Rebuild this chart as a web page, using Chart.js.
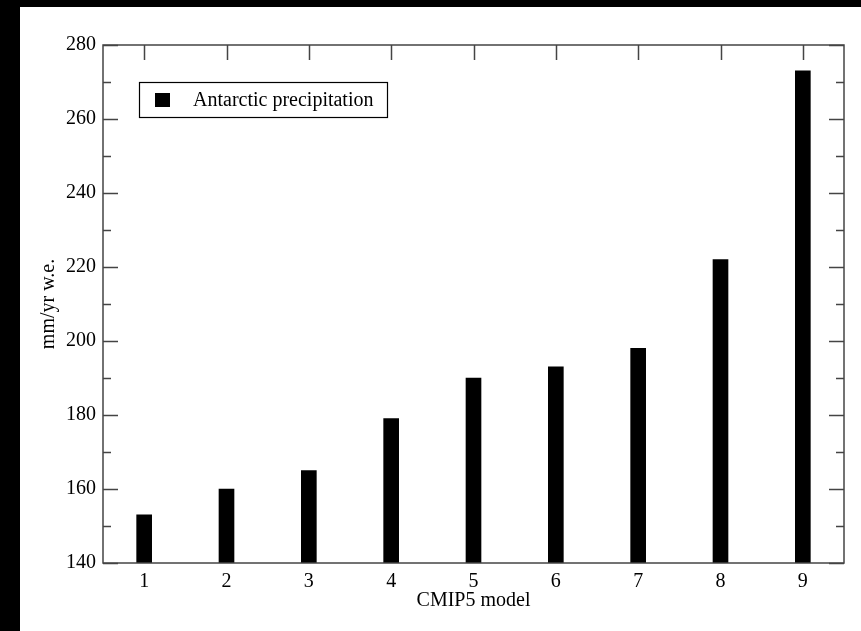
<!DOCTYPE html>
<html>
<head>
<meta charset="utf-8">
<script src="https://cdn.jsdelivr.net/npm/chart.js@4.4.0/dist/chart.umd.min.js"></script>
<style>
  html, body { margin: 0; padding: 0; background: #000; overflow: hidden; }
  #wrap { position: absolute; left: 20px; top: 7px; width: 841px; height: 624px; background: #fff; }
</style>
</head>
<body>
<div id="wrap"><canvas id="chart" width="841" height="624"></canvas></div>
<script>
const models = ['1', '2', '3', '4', '5', '6', '7', '8', '9'];
const precipitation = [153, 160, 165, 179, 190, 193, 198, 222, 273];
const yMin = 140, yMax = 280, yStep = 20, yMinorStep = 10;

const axisColor = '#444';

// frame, inward ticks and the boxed legend, like the original xmgrace plot
const framePlugin = {
    id: 'frame',
    beforeDatasetsDraw(chart) {
        const ctx = chart.ctx;
        const a = chart.chartArea;
        const x = chart.scales.x, y = chart.scales.y;
        ctx.save();
        ctx.strokeStyle = axisColor;
        ctx.lineWidth = 1.5;
        ctx.beginPath();
        for (let v = yMin; v <= yMax; v += yMinorStep) {
            const py = Math.round(y.getPixelForValue(v)) + 0.5;
            const len = (v - yMin) % yStep === 0 ? 15 : 8;
            ctx.moveTo(a.left, py); ctx.lineTo(a.left + len, py);
            ctx.moveTo(a.right, py); ctx.lineTo(a.right - len, py);
        }
        models.forEach((m, i) => {
            const px = Math.round(x.getPixelForValue(i)) + 0.5;
            ctx.moveTo(px, a.top); ctx.lineTo(px, a.top + 15);
            ctx.moveTo(px, a.bottom); ctx.lineTo(px, a.bottom - 15);
        });
        ctx.stroke();
        ctx.restore();
    },
    afterDatasetsDraw(chart) {
        const ctx = chart.ctx;
        const a = chart.chartArea;
        ctx.save();
        ctx.strokeStyle = axisColor;
        ctx.lineWidth = 1.5;
        ctx.strokeRect(a.left, a.top, a.right - a.left, a.bottom - a.top);

        // legend
        const ds = chart.data.datasets[0];
        const lx = a.left + 36, ly = a.top + 37, lw = 248, lh = 35;
        ctx.strokeStyle = '#000';
        ctx.lineWidth = 1.2;
        ctx.strokeRect(lx + 0.5, ly + 0.5, lw, lh);
        ctx.fillStyle = ds.backgroundColor;
        ctx.fillRect(lx + 16, ly + 11, 15, 14);
        ctx.fillStyle = '#000';
        ctx.font = "20px 'Liberation Serif', 'DejaVu Serif', serif";
        ctx.textBaseline = 'middle';
        ctx.fillText(ds.label, lx + 54, ly + lh / 2 + 1);
        ctx.restore();
    }
};

Chart.defaults.font.family = "'Liberation Serif', 'DejaVu Serif', serif";
Chart.defaults.font.size = 20;
Chart.defaults.color = '#000';

new Chart(document.getElementById('chart'), {
    type: 'bar',
    data: {
        labels: models,
        datasets: [{
            label: 'Antarctic precipitation',
            data: precipitation,
            backgroundColor: '#000',
            barThickness: 15
        }]
    },
    options: {
        responsive: false,
        animation: false,
        layout: { padding: { left: 0, top: 38, right: 17, bottom: 0 } },
        plugins: {
            legend: { display: false },
            tooltip: { enabled: false }
        },
        scales: {
            x: {
                grid: { display: false, drawTicks: false },
                border: { display: false },
                ticks: { padding: 7, maxRotation: 0 },
                title: { display: true, text: 'CMIP5 model', padding: { top: 0, bottom: 18 } },
                afterFit(scale) { scale.height = 68; }
            },
            y: {
                min: yMin,
                max: yMax,
                grid: { display: false, drawTicks: false },
                border: { display: false },
                ticks: { stepSize: yStep, padding: 7 },
                title: { display: true, text: 'mm/yr w.e.', padding: { top: 17, bottom: 0 } },
                afterFit(scale) { scale.width = 83; }
            }
        }
    },
    plugins: [framePlugin]
});
</script>
</body>
</html>
